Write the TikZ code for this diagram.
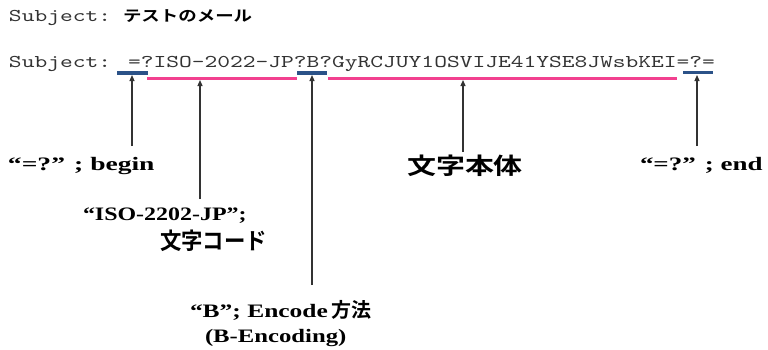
\documentclass[tikz,border=0pt]{standalone}
\usepackage{fontspec}
\usepackage{graphicx}
\usetikzlibrary{arrows.meta}
\setmainfont{Liberation Serif}
\newfontfamily\monof{lmmono10-regular.otf}
\newfontfamily\jpf{Noto Sans CJK JP}[BoldFont={Noto Sans CJK JP Bold}]
\definecolor{barblue}{HTML}{2B5288}
\definecolor{barpink}{HTML}{F2408F}
\definecolor{ink}{HTML}{333333}
\newcommand\hs[2]{\scalebox{#1}[1]{#2}}
\begin{document}
\begin{tikzpicture}[x=1pt,y=-1pt,
  txt/.style={inner sep=0pt, outer sep=0pt, anchor=base west},
  mono/.style={txt, font=\monof\fontsize{18}{20}\selectfont, text=ink},
  lbl/.style={txt, font=\bfseries\fontsize{19}{22}\selectfont},
  jpl/.style={txt, font=\jpf\bfseries\fontsize{23}{26}\selectfont},
  bluebar/.style={draw=barblue, line width=3.2pt},
  pinkbar/.style={draw=barpink, line width=2.4pt},
  arr/.style={draw=ink, line width=1.2pt, -{Triangle[length=6pt,width=5pt]}}]
\useasboundingbox (0,0) rectangle (768,349);

% header lines
\node[mono] (s1) at (9,21) {\hs{1.35}{Subject:}};
\node[txt, font=\jpf\bfseries\fontsize{15}{18}\selectfont] (jp1) at (123,21) {\hs{1.23}{テストのメール}};
\node[mono] (s2) at (9,67) {\hs{1.35}{Subject: =?ISO-2022-JP?B?GyRCJUY1OSVIJE41YSE8JWsbKEI=?=}};

% underline bars
\draw[bluebar] (117,73) -- (148,73);
\draw[pinkbar] (147,78.5) -- (297,78.5);
\draw[bluebar] (297,73) -- (327,73);
\draw[pinkbar] (328,78.5) -- (677,78.5);
\draw[bluebar] (683,72.5) -- (713,72.5);

% arrow targets (on bars) and free ends
\coordinate (t1) at (132,75);
\coordinate (t2) at (200,80);
\coordinate (t3) at (312,75);
\coordinate (t4) at (463,80);
\coordinate (t5) at (697,75);
\coordinate (f1) at (132,146);
\coordinate (f2) at (200,199);
\coordinate (f3) at (312,285);
\coordinate (f4) at (463,152);
\coordinate (f5) at (697,146);

% labels
\node[lbl] (lbegin) at (8,170) {\hs{1.45}{“=?” ; begin}};
\node[lbl] (lend) at (640,170) {\hs{1.42}{“=?” ; end}};
\node[txt, anchor=base, font=\jpf\bfseries\fontsize{23}{26}\selectfont] (lbody) at (465,174) {\hs{1.26}{文字本体}};
\node[lbl] (liso) at (83,220) {\hs{1.26}{“ISO-2202-JP”;}};
\node[jpl] (lcode) at (160,249) {\hs{0.93}{文字コード}};
\node[lbl] (lb1) at (190,317) {\hs{1.34}{“B”; Encode}\,{\jpf\fontsize{20}{22}\selectfont 方法}};
\node[lbl] (lb2) at (205,342) {\hs{1.3}{(B-Encoding)}};

% arrows
\draw[arr] (f1) -- (t1);
\draw[arr] (f2) -- (t2);
\draw[arr] (f3) -- (t3);
\draw[arr] (f4) -- (t4);
\draw[arr] (f5) -- (t5);
\end{tikzpicture}
\end{document}
